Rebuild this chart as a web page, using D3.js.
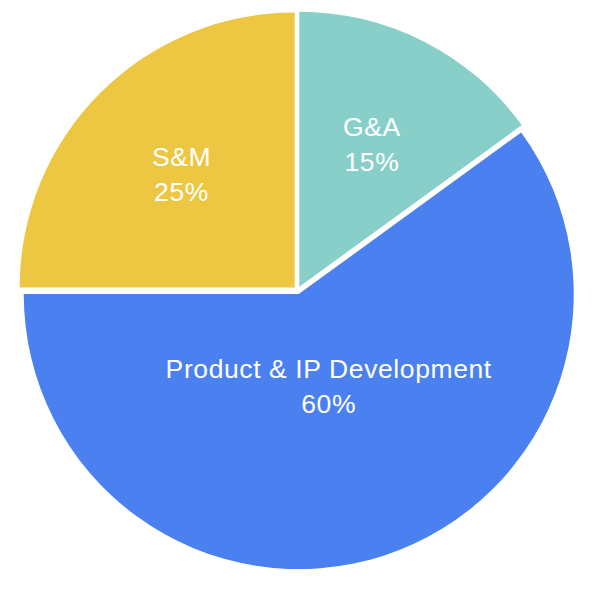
<!DOCTYPE html>
<html>
<head>
<meta charset="utf-8">
<script src="https://cdn.jsdelivr.net/npm/d3@7/dist/d3.min.js"></script>
<style>
  html, body { margin: 0; padding: 0; background: #ffffff; }
  svg { display: block; }
</style>
</head>
<body>
<svg id="chart" width="600" height="590"></svg>
<script>
// ---- data ----
const categories = ["G&A", "Product & IP Development", "S&M"];
const values = [15, 60, 25];
const percentLabels = ["15%", "60%", "25%"];
const colors = ["#88CFCA", "#4A80EF", "#EDC642"];

// ---- layout ----
const W = 600, H = 590;
const cx = 297.5, cy = 290.3;
const radius = 275;
const explode = 4;
const labelRadius = [160, 97, 160];
const fontSize = 26.5;

const svg = d3.select("#chart");
const g = svg.append("g").attr("transform", `translate(${cx},${cy})`);

const pie = d3.pie().sort(null).value(d => d.value).startAngle(0).endAngle(2 * Math.PI);
const data = categories.map((c, i) => ({ name: c, value: values[i], pct: percentLabels[i], color: colors[i], lr: labelRadius[i] }));
const arcs = pie(data);
const arc = d3.arc().innerRadius(0).outerRadius(radius);

const slices = g.selectAll("g.slice").data(arcs).join("g")
  .attr("class", "slice")
  .attr("transform", d => {
    const mid = (d.startAngle + d.endAngle) / 2;
    return `translate(${Math.sin(mid) * explode},${-Math.cos(mid) * explode})`;
  });

slices.append("path")
  .attr("d", arc)
  .attr("fill", d => d.data.color);

slices.each(function(d) {
  const mid = (d.startAngle + d.endAngle) / 2;
  const x = Math.sin(mid) * d.data.lr;
  const y = -Math.cos(mid) * d.data.lr;
  const t = d3.select(this).append("text")
    .attr("text-anchor", "middle")
    .attr("fill", "#ffffff")
    .attr("font-family", "'Liberation Sans', Arial, Helvetica, sans-serif")
    .attr("font-size", fontSize)
    .attr("letter-spacing", "0.6px");
  t.append("tspan").attr("x", x).attr("y", y - 8).text(d.data.name);
  t.append("tspan").attr("x", x).attr("y", y + 27).text(d.data.pct);
});
</script>
</body>
</html>
